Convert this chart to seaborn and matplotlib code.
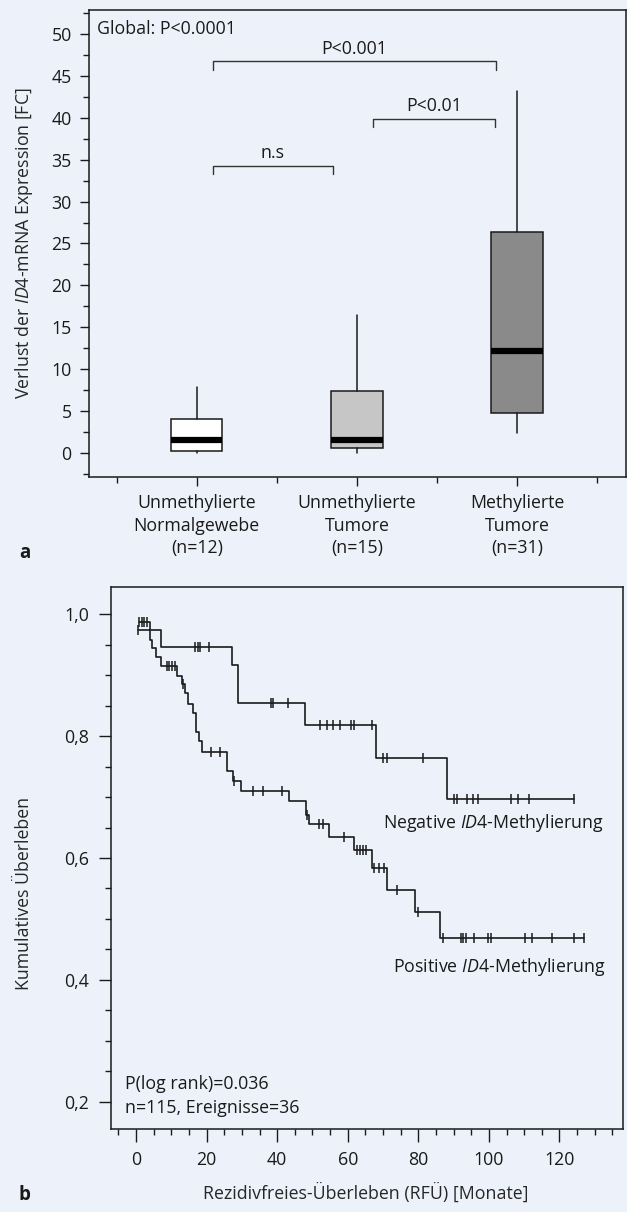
import numpy as np
import seaborn as sns
import matplotlib.pyplot as plt

# panel a: box summary values
groups = ['Unmethylierte\nNormalgewebe\n(n=12)', 'Unmethylierte\nTumore\n(n=15)', 'Methylierte\nTumore\n(n=31)']
whis_lo = [0.0, 0.0, 2.3]
q1 = [0.17, 0.52, 4.7]
med = [1.47, 1.5, 12.2]
q3 = [4.05, 7.43, 26.4]
whis_hi = [7.8, 16.4, 43.2]
box_colors = ['#ffffff', '#c6c6c6', '#8a8a8a']

# significance brackets
br_left = [0.1, 1.1, 0.1]
br_right = [0.85, 1.86, 1.87]
br_height = [34.3, 39.9, 46.75]
br_text = ['n.s', 'P<0.01', 'P<0.001']

# panel b: Kaplan-Meier curves
neg_start_t, neg_start_s, neg_end_t = 0.65, 0.973, 124.1
neg_event_t = [7.0, 27.1, 28.8, 47.9, 67.9, 88.2]
neg_event_s = [0.946, 0.916, 0.854, 0.818, 0.764, 0.696]
neg_cens = [0.65, 16.7, 17.5, 18.1, 20.7, 38.2, 38.8, 43.1, 52.1, 54.0, 55.7, 57.8,
            60.8, 61.8, 66.9, 70.1, 71.2, 81.2, 90.0, 91.0, 93.8, 95.6, 96.8,
            106.2, 108.2, 111.3, 124.1]

pos_start_t, pos_start_s, pos_end_t = 0.8, 0.987, 126.9
pos_event_t = [4.0, 4.6, 5.8, 7.0, 11.7, 12.9, 13.9, 14.8, 16.1, 17.0, 17.9, 18.6,
               25.7, 27.5, 29.8, 43.3, 48.2, 49.1, 54.8, 61.8, 66.8, 71.2, 79.0, 86.1]
pos_event_s = [0.957, 0.944, 0.930, 0.915, 0.899, 0.886, 0.870, 0.852, 0.837, 0.807,
               0.791, 0.774, 0.743, 0.726, 0.710, 0.693, 0.671, 0.655, 0.635, 0.613,
               0.583, 0.547, 0.511, 0.469]
pos_cens = [0.9, 1.6, 2.4, 3.2, 8.7, 9.4, 10.1, 11.0, 13.2, 21.2, 23.9, 27.8, 33.1,
            35.9, 41.4, 48.4, 51.9, 52.9, 58.9, 62.7, 63.5, 64.2, 65.2, 67.4, 68.9,
            70.3, 74.0, 80.0, 86.9, 92.0, 92.7, 93.5, 95.8, 99.8, 100.7, 110.2,
            112.1, 118.0, 124.1, 126.9]

bg = '#edf2fa'
ink = '#1a1a1a'

sns.set_style('ticks')
plt.rcParams['font.family'] = ['Open Sans', 'DejaVu Sans']
plt.rcParams['font.size'] = 12.8
plt.rcParams['mathtext.fontset'] = 'custom'
plt.rcParams['mathtext.rm'] = 'Open Sans'
plt.rcParams['mathtext.it'] = 'Open Sans:italic'
plt.rcParams['text.color'] = ink
plt.rcParams['axes.edgecolor'] = ink
plt.rcParams['xtick.color'] = ink
plt.rcParams['ytick.color'] = ink

fig = plt.figure(figsize=(6.27, 12.12), dpi=100, facecolor=bg)
ax1 = fig.add_axes([89/627, 1-477/1212, 537/627, 467/1212], facecolor=bg)
ax2 = fig.add_axes([111/627, 1-1129/1212, 512/627, 542/1212], facecolor=bg)

# ---- panel a
stats = [dict(whislo=a, q1=b, med=c, q3=d, whishi=e, fliers=[])
         for a, b, c, d, e in zip(whis_lo, q1, med, q3, whis_hi)]
bp = ax1.bxp(stats, positions=range(len(groups)), widths=0.32, patch_artist=True,
             showcaps=False,
             boxprops=dict(edgecolor=ink, linewidth=1.1),
             whiskerprops=dict(color=ink, linewidth=1.1),
             medianprops=dict(color='black', linewidth=4.5, solid_capstyle='butt'))
for patch, col in zip(bp['boxes'], box_colors):
    patch.set_facecolor(col)

for l, r, h, t in zip(br_left, br_right, br_height, br_text):
    ax1.plot([l, l, r, r], [h - 1.0, h, h, h - 1.0], color='#333333', lw=1.0)
    ax1.text((l + r) / 2, h + 0.9, t, ha='center', va='baseline')

ax1.text(0.015, 0.959, 'Global: P<0.0001', transform=ax1.transAxes, va='center')

ax1.set_xlim(-0.673, 2.68)
ax1.set_ylim(-2.9, 52.9)
ax1.set_xticks(range(len(groups)))
ax1.set_xticklabels(groups, linespacing=1.3)
ax1.set_xticks([-0.5, 0.5, 1.5, 2.5], minor=True)
ax1.set_yticks(np.arange(0, 51, 5))
ax1.set_yticks(np.arange(-2.5, 53, 5), minor=True)
ax1.tick_params(axis='both', which='major', length=6.5, width=1.0, pad=6)
ax1.tick_params(axis='both', which='minor', length=4, width=1.0)
ax1.set_ylabel(r'Verlust der $\mathit{ID4}$-mRNA Expression [FC]')
ax1.yaxis.label.set_va('center')
ax1.yaxis.set_label_coords(-0.121, 0.5)
for s in ax1.spines.values():
    s.set_linewidth(1.1)

# ---- panel b
def km_arrays(t0, s0, ev_t, ev_s, t_end):
    t = np.r_[t0, ev_t, t_end]
    s = np.r_[s0, ev_s, ev_s[-1]]
    return t, s

def surv_at(times, s0, ev_t, ev_s):
    levels = np.r_[s0, ev_s]
    return levels[np.searchsorted(ev_t, times, side='right')]

for t0, s0, ev_t, ev_s, t_end, cens in [
        (neg_start_t, neg_start_s, neg_event_t, neg_event_s, neg_end_t, neg_cens),
        (pos_start_t, pos_start_s, pos_event_t, pos_event_s, pos_end_t, pos_cens)]:
    t, s = km_arrays(t0, s0, ev_t, ev_s, t_end)
    sns.lineplot(x=t, y=s, drawstyle='steps-post', estimator=None, sort=False,
                 color=ink, linewidth=1.2, ax=ax2)
    ax2.plot(cens, surv_at(cens, s0, ev_t, ev_s), linestyle='none', marker='|',
             markersize=7, markeredgewidth=1.1, color=ink)

ax2.text(70.0, 0.6575, r'Negative $\mathit{ID4}$-Methylierung', va='center')
ax2.text(72.8, 0.4213, r'Positive $\mathit{ID4}$-Methylierung', va='center')
ax2.text(0.027, 0.2287, 'P(log rank)=0.036', va='center',
         transform=ax2.get_yaxis_transform())
ax2.text(0.027, 0.1894, 'n=115, Ereignisse=36', va='center',
         transform=ax2.get_yaxis_transform())

ax2.set_xlim(-7.08, 138)
ax2.set_ylim(0.1557, 1.0443)
ax2.set_xticks(np.arange(0, 121, 20))
ax2.set_xticks(np.arange(-5, 136, 5), minor=True)
ax2.set_yticks(np.arange(0.2, 1.01, 0.2))
ax2.set_yticklabels(['0,2', '0,4', '0,6', '0,8', '1,0'])
ax2.set_yticks(np.arange(0.2, 1.04, 0.05), minor=True)
ax2.tick_params(axis='both', which='major', length=9, width=1.0, pad=7)
ax2.tick_params(axis='both', which='minor', length=4.3, width=1.0)
ax2.set_xlabel('Rezidivfreies-Überleben (RFÜ) [Monate]')
ax2.xaxis.label.set_va('center')
ax2.xaxis.set_label_coords(0.498, (1129 - 1193) / 542)
ax2.set_ylabel('Kumulatives Überleben')
ax2.yaxis.label.set_va('center')
ax2.yaxis.set_label_coords(-0.170, 0.435)
for s in ax2.spines.values():
    s.set_linewidth(1.1)

fig.text(19/627, 1-553/1212, 'a', weight='bold', va='center', fontsize=13.5)
fig.text(19/627, 1-1195/1212, 'b', weight='bold', va='center', fontsize=13.5)

fig.savefig('out.png', dpi=100, facecolor=bg)
